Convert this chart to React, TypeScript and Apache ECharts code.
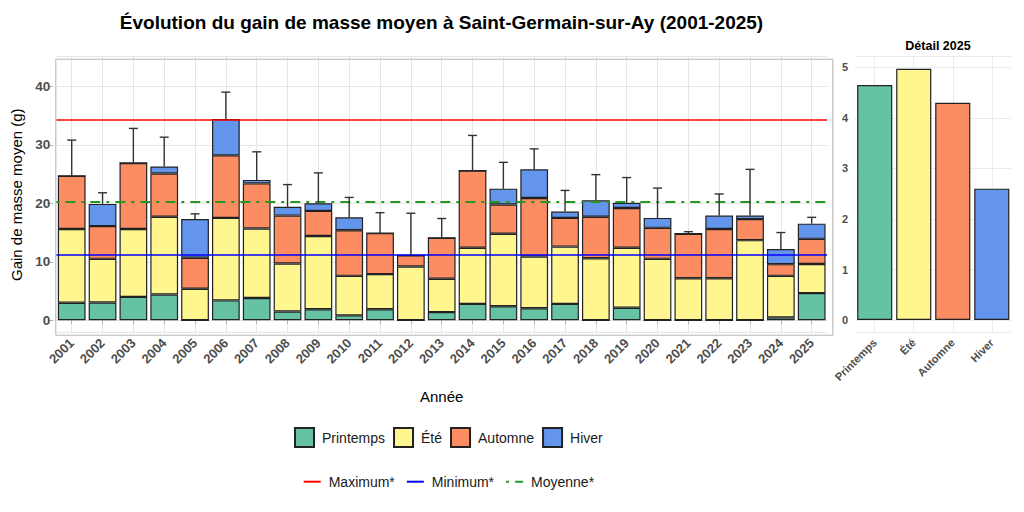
import React, { useEffect, useRef } from "react";
import * as echarts from "echarts";

const years = ["2001","2002","2003","2004","2005","2006","2007","2008","2009","2010","2011","2012","2013","2014","2015","2016","2017","2018","2019","2020","2021","2022","2023","2024","2025"];
const printemps = [3.0,3.05,4.0,4.4,0,3.4,3.8,1.5,1.9,0.85,1.9,0,1.4,2.8,2.4,2.05,2.8,0,2.15,0,0,0,0,0.5,4.65];
const ete = [12.6,7.45,11.6,13.3,5.4,14.1,11.9,8.2,12.5,6.75,6.0,9.2,5.7,9.6,12.4,8.85,9.8,10.6,10.25,10.5,7.2,7.2,13.7,7.1,4.97];
const automne = [9.1,5.6,11.3,7.4,5.3,10.7,7.7,8.2,4.3,7.8,7.0,1.9,7.0,13.2,5.0,10.0,4.9,7.1,6.8,5.3,7.6,8.4,3.6,2.0,4.3];
const hiver = [0,3.8,0,1.2,6.6,6.2,0.6,1.5,1.3,2.2,0,0,0,0,2.7,4.9,1.1,2.8,0.9,1.7,0,2.3,0.6,2.6,2.6];
const errTop = [30.8,21.8,32.8,31.3,18.2,39.0,28.8,23.2,25.2,21.0,18.4,18.3,17.4,31.6,27.0,29.3,22.2,24.9,24.4,22.6,15.15,21.6,25.8,15.0,17.6];
const seasons = ["Printemps","Été","Automne","Hiver"];
const refMax = 34.35;
const refMin = 11.15;
const refMean = 20.27;

const COLORS = ["#66C2A5", "#FFF68F", "#FC8D62", "#6495ED"];
const FONT = "'Liberation Sans', Arial, sans-serif";

export default function App() {
  const ref = useRef<HTMLDivElement>(null);
  useEffect(() => {
    if (!ref.current) return;
    const chart = echarts.init(ref.current, null, { renderer: "svg" });
    const seasonData = [printemps, ete, automne, hiver];
    const totals = years.map((_, i) => printemps[i] + ete[i] + automne[i] + hiver[i]);
    const last = years.length - 1;
    const detail = seasonData.map((arr, k) => ({ value: arr[last], itemStyle: { color: COLORS[k] } }));

    const mainLeft = 56.3, mainRight = 827.1, top = 56.7, height = 276;
    const barSeries = seasons.map((s, k) => ({
      name: s,
      type: "bar",
      stack: "total",
      xAxisIndex: 0,
      yAxisIndex: 0,
      barWidth: "90%",
      data: seasonData[k],
      itemStyle: { color: COLORS[k], borderColor: "#222", borderWidth: 1.2 },
      z: 2,
    }));
    const mk = (name: string, val: number, color: string, type: any, width: number) => ({
      name,
      type: "line",
      xAxisIndex: 0,
      yAxisIndex: 0,
      data: [],
      symbol: "none",
      lineStyle: { color, width, type },
      itemStyle: { color },
      z: 4,
      markLine: {
        silent: true,
        symbol: "none",
        label: { show: false },
        lineStyle: { color, width, type },
        data: [{ yAxis: val }],
        z: 4,
      },
    });

    chart.setOption({
      animation: false,
      textStyle: { fontFamily: FONT },
      title: [
        {
          text: "Évolution du gain de masse moyen à Saint-Germain-sur-Ay (2001-2025)",
          left: 436.5, top: 8, textAlign: "center",
          textStyle: { fontSize: 19, fontWeight: "bold", color: "#000", fontFamily: FONT },
        },
        {
          text: "Détail 2025",
          left: 933, top: 34, textAlign: "center",
          textStyle: { fontSize: 12.5, fontWeight: "bold", color: "#000", fontFamily: FONT },
        },
      ],
      grid: [
        { left: mainLeft, width: mainRight - mainLeft, top, height, containLabel: false },
        { left: 855.2, width: 156.1, top, height, containLabel: false },
      ],
      xAxis: [
        {
          type: "category", gridIndex: 0, data: years,
          name: "Année", nameLocation: "middle", nameGap: 56,
          nameTextStyle: { fontSize: 15, color: "#000", fontFamily: FONT },
          axisLine: { show: false },
          axisTick: { show: true, alignWithLabel: true, length: 4, lineStyle: { color: "#B3B3B3" } },
          axisLabel: { rotate: 45, fontSize: 13, fontWeight: "bold", color: "#4D4D4D", margin: 8, interval: 0, fontFamily: FONT },
          splitLine: { show: true, alignWithLabel: true, lineStyle: { color: "#E6E6E6", width: 1 } },
        },
        {
          type: "category", gridIndex: 1, data: seasons,
          axisLine: { show: false },
          axisTick: { show: false },
          axisLabel: { rotate: 45, fontSize: 11, fontWeight: "bold", color: "#4D4D4D", margin: 8, interval: 0, fontFamily: FONT },
          splitLine: { show: true, alignWithLabel: true, lineStyle: { color: "#EBEBEB", width: 1 } },
        },
      ],
      yAxis: [
        {
          type: "value", gridIndex: 0, min: -2.12, max: 45.06, offset: 3,
          name: "Gain de masse moyen (g)", nameLocation: "middle", nameGap: 28,
          nameTextStyle: { fontSize: 15, color: "#000", fontFamily: FONT },
          axisLine: { show: false },
          axisTick: { show: true, length: 4, lineStyle: { color: "#B3B3B3" } },
          axisLabel: { fontSize: 13.5, fontWeight: "bold", color: "#4D4D4D", margin: 3, showMinLabel: false, showMaxLabel: false, fontFamily: FONT },
          splitLine: { show: true, lineStyle: { color: "#E6E6E6", width: 1 } },
        },
        {
          type: "value", gridIndex: 1, min: -0.25, max: 5.21,
          axisLine: { show: false },
          axisTick: { show: false },
          axisLabel: { fontSize: 11, fontWeight: "bold", color: "#4D4D4D", margin: 7, showMinLabel: false, showMaxLabel: false, fontFamily: FONT },
          splitLine: { show: true, lineStyle: { color: "#EBEBEB", width: 1 } },
        },
      ],
      legend: [
        {
          data: seasons, left: 294, top: 427, orient: "horizontal", padding: 0,
          itemWidth: 19, itemHeight: 19, itemGap: 8, icon: "rect",
          textStyle: { fontSize: 14, color: "#1a1a1a", padding: [0, 0, 0, 3], fontFamily: FONT },
        },
        {
          data: ["Maximum*", "Minimum*", "Moyenne*"], left: 302.7, top: 474.7, orient: "horizontal", padding: 0,
          itemWidth: 17, itemHeight: 14, itemGap: 11,
          itemStyle: { opacity: 0 },
          textStyle: { fontSize: 14, color: "#1a1a1a", padding: [0, 0, 0, 3], fontFamily: FONT },
        },
      ],
      graphic: [
        {
          type: "rect", left: 53.3, top: 56.7, silent: true, z: 10,
          shape: { width: 777, height: 276 },
          style: { fill: "none", stroke: "#B3B3B3", lineWidth: 1 },
        },
      ],
      series: [
        ...barSeries,
        mk("Maximum*", refMax, "#FF0000", "solid", 1.6),
        mk("Minimum*", refMin, "#0000FF", "solid", 1.6),
        mk("Moyenne*", refMean, "#229A22", [3, 6, 10, 6], 2.2),
        {
          name: "err",
          type: "custom",
          xAxisIndex: 0,
          yAxisIndex: 0,
          z: 5,
          encode: { x: 0, y: [1, 2] },
          data: years.map((_, i) => [i, totals[i], errTop[i]]),
          renderItem: (params: any, api: any) => {
            const x = api.value(0);
            const lo = api.coord([x, api.value(1)]);
            const hi = api.coord([x, api.value(2)]);
            const st = { stroke: "#333333", lineWidth: 1.4 };
            return {
              type: "group",
              children: [
                { type: "line", shape: { x1: lo[0], y1: lo[1], x2: hi[0], y2: hi[1] }, style: st },
                { type: "line", shape: { x1: hi[0] - 4.5, y1: hi[1], x2: hi[0] + 4.5, y2: hi[1] }, style: st },
              ],
            };
          },
        },
        {
          name: "detail",
          type: "bar",
          xAxisIndex: 1,
          yAxisIndex: 1,
          barWidth: "90%",
          data: detail,
          itemStyle: { borderColor: "#222", borderWidth: 1.2 },
        },
      ],
    });
    return () => chart.dispose();
  }, []);
  return <div ref={ref} style={{ position: "fixed", left: 0, top: 0, width: 1024, height: 512, background: "#fff" }} />;
}
